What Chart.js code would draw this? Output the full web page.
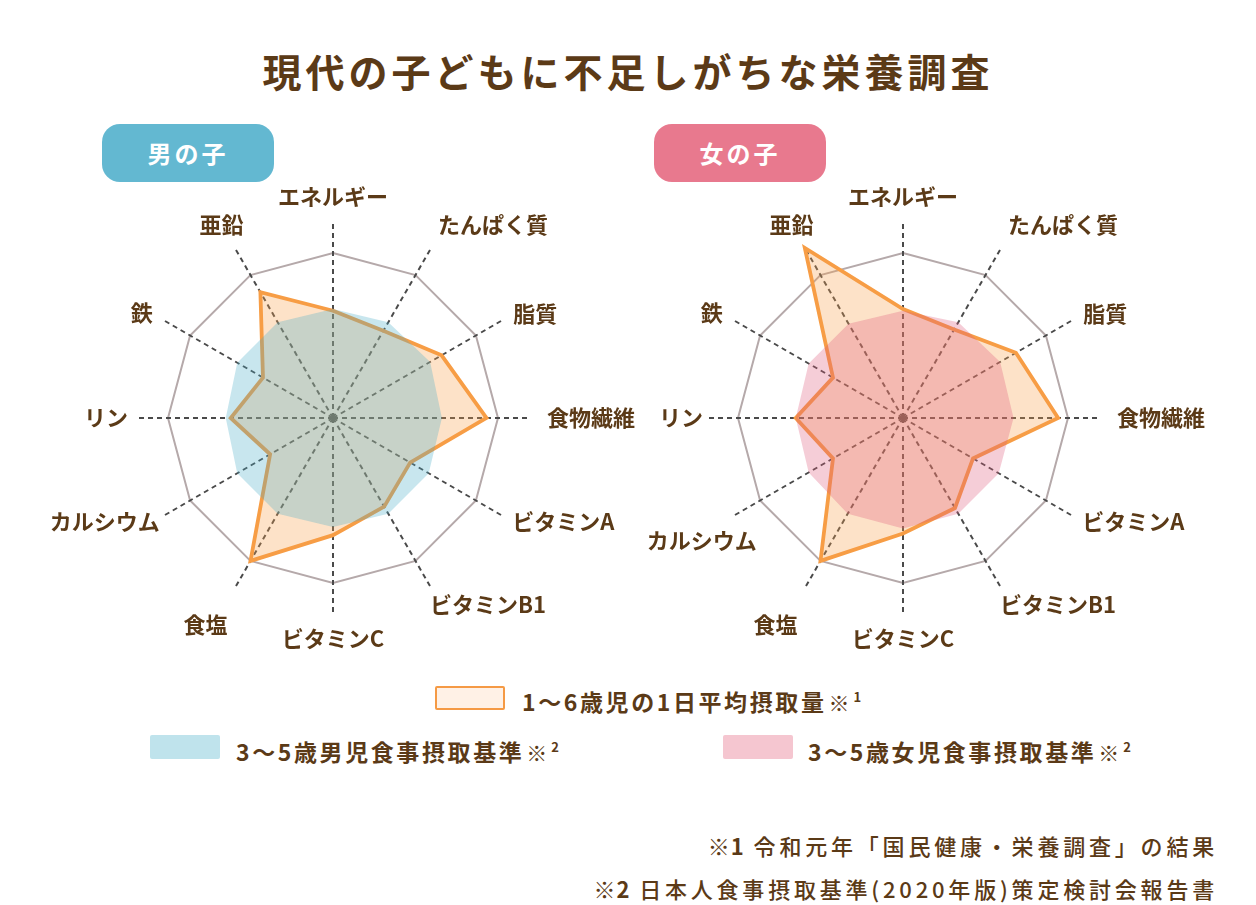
<!DOCTYPE html>
<html lang="ja">
<head>
<meta charset="utf-8">
<title>現代の子どもに不足しがちな栄養調査</title>
<script src="https://cdn.jsdelivr.net/npm/chart.js@4.4.1/dist/chart.umd.min.js"></script>
<style>
    body { margin: 0; background: #fff; }
    #lienzo { position: relative; width: 1256px; height: 905px; overflow: hidden; background: #fff;
              font-family: "Noto Sans CJK JP", "Noto Sans", sans-serif; color: #5b3a17; }
    .titulo { position: absolute; left: 0; top: 42px; width: 1256px; text-align: center;
              font-size: 39px; font-weight: bold; letter-spacing: 4px; line-height: 56px; }
    .etiqueta { position: absolute; top: 124px; width: 172px; height: 58px; border-radius: 18px;
                color: #fff; font-size: 24px; font-weight: bold; letter-spacing: 3px;
                line-height: 58px; text-align: center; }
    canvas { position: absolute; top: 186px; }
    .leyenda { position: absolute; font-size: 23px; font-weight: bold; letter-spacing: 2.6px; line-height: 28px; white-space: nowrap; }
    .caja { position: absolute; width: 70px; height: 24px; border-radius: 2px; box-sizing: border-box; }
    .ref { font-weight: normal; font-size: 21px; margin-left: 2px; letter-spacing: 0; }
    .ref sup { font-weight: bold; font-size: 13px; vertical-align: 9px; margin-left: 4px; }
    .nota { position: absolute; right: 38px; font-size: 22px; font-weight: 500; letter-spacing: 3.8px; line-height: 28px; white-space: nowrap; }
    .nota b { font-weight: bold; letter-spacing: 1px; }
</style>
</head>
<body>
<div id="lienzo">
    <div class="titulo">現代の子どもに不足しがちな栄養調査</div>

    <div class="etiqueta" style="left:102px; background:#63b8d1;">男の子</div>
    <div class="etiqueta" style="left:654px; background:#e8798e;">女の子</div>

    <canvas id="grafico_nino" width="680" height="464" style="left:-7px;"></canvas>
    <canvas id="grafico_nina" width="680" height="464" style="left:563px;"></canvas>

    <!-- leyenda -->
    <div class="caja" style="left:435px; top:686px; background:#fff1e6; border:2px solid #f59a45;"></div>
    <div class="leyenda" style="left:522px; top:683px;">1～6歳児の1日平均摂取量<span class="ref">※<sup>1</sup></span></div>
    <div class="caja" style="left:150px; top:735px; background:#bfe3ec;"></div>
    <div class="leyenda" style="left:236px; top:733px;">3～5歳男児食事摂取基準<span class="ref">※<sup>2</sup></span></div>
    <div class="caja" style="left:723px; top:735px; background:#f5c6d0;"></div>
    <div class="leyenda" style="left:808px; top:733px;">3～5歳女児食事摂取基準<span class="ref">※<sup>2</sup></span></div>

    <div class="nota" style="top:831px;"><b>※1</b> 令和元年「国民健康・栄養調査」の結果</div>
    <div class="nota" style="top:874px;"><b>※2</b> 日本人食事摂取基準(2020年版)策定検討会報告書</div>
</div>

<script>
// ejes del radar (en sentido horario desde arriba)
var categorias = ["エネルギー", "たんぱく質", "脂質", "食物繊維", "ビタミンA", "ビタミンB1",
                  "ビタミンC", "食塩", "カルシウム", "リン", "鉄", "亜鉛"];

// % respecto al valor de referencia (100 = anillo exterior)
var ingesta_nino = [65, 61, 76, 93, 54, 62, 71, 100, 44, 62, 49, 88];
var base_nino    = [66, 67, 68, 66, 67, 67, 66, 67, 67, 65, 67, 67];
var ingesta_nina = [66, 62, 79, 94, 49, 63, 70, 100, 49, 65, 49, 119];
var base_nina    = [65, 67, 68, 67, 67, 67, 67, 67, 66, 65, 66, 66];

var escala_max = 120;
var anillo = 100;

var etiquetas_ingesta = "1～6歳児の1日平均摂取量";
var etiqueta_nino = "3～5歳男児食事摂取基準";
var etiqueta_nina = "3～5歳女児食事摂取基準";

// ajuste fino de la posicion de cada nombre de eje (px y alto de linea)
var sep_nino  = [12, 12, 10, 16, 9, -4, 12, 13, 2, 7, 10, -19];
var alto_nino = [1, 1, 0.05, 1, 0.05, 1.73, 1, 2.2, 0.3, 1, 0.1, 3.45];
var sep_nina  = [12, 12, 10, 16, 9, -4, 12, 13, -29, 2, 10, -19];
var alto_nina = [1, 1, 0.05, 1, 0.05, 1.73, 1, 2.2, 3.5, 1, 0.1, 3.45];

function ver_radar(id, base, etiqueta_base, color_base, ingesta, sep, alto) {
    var datos = {
        labels: categorias,
        datasets: [{
            // base va encima (index 0 se pinta al final)
            label: etiqueta_base,
            data: base,
            backgroundColor: color_base,
            borderWidth: 0,
            pointRadius: 0,
            fill: true
        }, {
            label: etiquetas_ingesta,
            data: ingesta,
            backgroundColor: "rgba(247,160,74,0.3)",
            borderColor: "#f79d45",
            borderWidth: 3.8,
            borderJoinStyle: "miter",
            pointRadius: 0,
            fill: true
        }]
    };

    var canvas = document.getElementById(id).getContext("2d");
    return new Chart(canvas, {
        type: "radar",
        data: datos,
        options: {
            responsive: false,
            animation: false,
            layout: { padding: 0 },
            plugins: {
                legend: { display: false },
                title: { display: false },
                tooltip: { enabled: false }
            },
            elements: { line: { tension: 0 } },
            scales: {
                r: {
                    min: 0,
                    max: escala_max,
                    ticks: { display: false, stepSize: anillo },
                    grid: {
                        lineWidth: 2,
                        color: function (ctx) {
                            return (ctx.tick && ctx.tick.value === anillo) ? "#b5a9aa" : "rgba(0,0,0,0)";
                        }
                    },
                    angleLines: {
                        color: "#4a4a4a",
                        lineWidth: 2,
                        borderDash: [5, 4]
                    },
                    pointLabels: {
                        color: "#5b3a17",
                        padding: function (ctx) { return sep[ctx.index]; },
                        font: function (ctx) {
                            return { family: "'Noto Sans CJK JP'", size: 22, weight: "bold", lineHeight: alto[ctx.index] };
                        }
                    }
                }
            }
        }
    });
}

ver_radar("grafico_nino", base_nino, etiqueta_nino, "rgba(72,172,198,0.3)", ingesta_nino, sep_nino, alto_nino);
ver_radar("grafico_nina", base_nina, etiqueta_nina, "rgba(222,88,122,0.3)", ingesta_nina, sep_nina, alto_nina);
</script>
</body>
</html>
